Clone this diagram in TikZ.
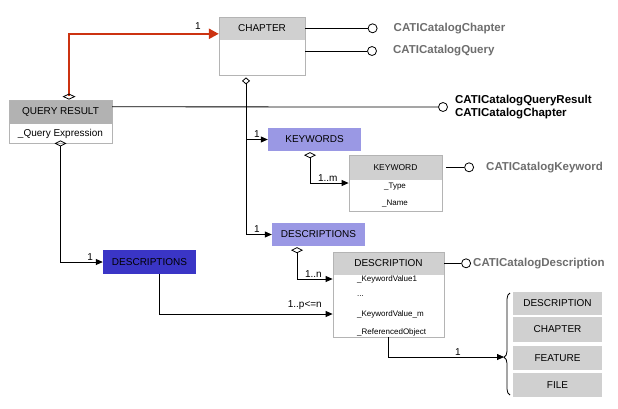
\documentclass[tikz,border=0pt]{standalone}
\usepackage{fontspec}
\setmainfont{Liberation Sans}
\usepackage{tikz}
\usetikzlibrary{arrows.meta, positioning, backgrounds, decorations.pathreplacing}

\definecolor{boxgray}{HTML}{B4B4B4}
\definecolor{headgray}{HTML}{D0D0D0}
\definecolor{qrgray}{HTML}{B2B2B2}
\definecolor{hatchblue}{HTML}{9A98E4}
\definecolor{solidblue}{HTML}{3A35C6}
\definecolor{linkred}{HTML}{CC3311}
\definecolor{ifacegray}{HTML}{6E6E6E}

\tikzset{
    umlbox/.style={draw=boxgray, line width=0.8pt, inner sep=0pt},
    capsfont/.style={font=\fontsize{10}{12}\selectfont},
    grayhead/.style={capsfont, fill=headgray, inner sep=0pt, anchor=north},
    bluebox/.style={capsfont, fill=hatchblue, inner sep=0pt, minimum width=93pt, minimum height=23pt},
    attr/.style={font=\fontsize{8}{10}\selectfont, inner sep=1pt},
    link/.style={line width=0.8pt, -{Triangle[length=7pt,width=6pt]}},
    agg/.style={line width=0.8pt, {Diamond[open,length=6pt,width=12pt]}-{Triangle[length=7pt,width=6pt]}},
    chapagg/.style={line width=0.8pt, {Diamond[open,length=7pt,width=8pt]}-{Triangle[length=7pt,width=6pt]}},
    redlink/.style={draw=linkred, line width=2.4pt,
        {Diamond[open,color=black,line width=0.8pt,length=6pt,width=13pt]}-{Triangle[length=10pt,width=10pt]}},
    iface/.style={line width=0.8pt},
    lolli/.style={circle, draw, line width=0.8pt, minimum size=9pt, inner sep=0pt},
    ifacelabel/.style={font=\fontsize{11.5}{13}\selectfont\bfseries, text=ifacegray, inner sep=0pt, align=left},
    numlabel/.style={font=\fontsize{10}{12}\selectfont, inner sep=1.5pt}
}

\begin{document}
\begin{tikzpicture}[x=1pt, y=-1pt]
    \useasboundingbox (0,0) rectangle (618,408);

    % classes
    \node[umlbox, minimum width=86pt, minimum height=58pt] (chapter) at (262,46) {};
    \node[umlbox, minimum width=103pt, minimum height=43pt] (qr) at (60.5,121.5) {};
    \node[umlbox, minimum width=93pt, minimum height=56pt] (kw) at (395.5,183) {};
    \node[umlbox, minimum width=111pt, minimum height=85pt] (desc) at (388.5,294.5) {};

    \node[bluebox] (kws) at (314.5,139.5) {KEYWORDS};
    \node[bluebox] (descA) at (318.5,234.5) {DESCRIPTIONS};
    \node[bluebox, fill=solidblue, minimum height=24pt] (descB) at (149.5,262) {DESCRIPTIONS};

    \begin{scope}[on background layer]
        \fill[white] (0,0) rectangle (618,408);
        \node[grayhead, minimum width=86pt, minimum height=23pt] (chapterhead) at (chapter.north) {CHAPTER};
        \node[grayhead, fill=qrgray, minimum width=103pt, minimum height=24pt] (qrhead) at (qr.north) {QUERY RESULT};
        \node[grayhead, font=\fontsize{8.5}{10}\selectfont, minimum width=93pt, minimum height=25pt] (kwhead) at (kw.north) {KEYWORD};
        \node[grayhead, minimum width=111pt, minimum height=23pt] (deschead) at (desc.north) {DESCRIPTION};
    \end{scope}

    % attributes
    \node[attr, font=\fontsize{10}{12}\selectfont] (qrexpr) at (60.5,134) {\_Query Expression};
    \node[attr] (kwtype) at (395,187) {\_Type};
    \node[attr] (kwname) at (395,204) {\_Name};
    \node[attr, anchor=west] (kvone) at (356,279) {\_KeywordValue1};
    \node[attr, anchor=west] (kvdots) at (356,296) {...};
    \node[attr, anchor=west] (kvm) at (356,314) {\_KeywordValue\_m};
    \node[attr, anchor=west] (refobj) at (356,332) {\_ReferencedObject};

    % referenced object kinds
    \node[grayhead, anchor=center, minimum width=89pt, minimum height=23pt] (tdesc) at (557.5,303.5) {DESCRIPTION};
    \node[grayhead, anchor=center, minimum width=89pt, minimum height=25pt] (tchap) at (557.5,329.5) {CHAPTER};
    \node[grayhead, anchor=center, minimum width=89pt, minimum height=24pt] (tfeat) at (557.5,358) {FEATURE};
    \node[grayhead, anchor=center, minimum width=89pt, minimum height=24pt] (tfile) at (557.5,385) {FILE};
    \draw[line width=0.8pt, decorate, decoration={brace, amplitude=6pt, aspect=0.37}] (510,395) -- (510,293);
    \coordinate (bracetip) at (504,357);

    % interfaces
    \node[lolli, right=62.5pt of chapterhead] (lchap) {};
    \node[lolli] (lquery) at (372,51) {};
    \node[lolli] (lqr) at (443,107) {};
    \node[lolli, right=22pt of kwhead] (lkw) {};
    \node[lolli, right=17pt of deschead] (ldesc) {};
    \node[ifacelabel, right=16pt of lchap] (tlchap) {CATICatalogChapter};
    \node[ifacelabel, right=16pt of lquery] (tlquery) {CATICatalogQuery};
    \node[ifacelabel, text=black, right=7pt of lqr] (tlqr) {CATICatalogQueryResult\\CATICatalogChapter};
    \node[ifacelabel, right=12pt of lkw] (tlkw) {CATICatalogKeyword};
    \node[ifacelabel, right=2pt of ldesc] (tldesc) {CATICatalogDescription};

    \draw[iface] (chapterhead.east) -- (lchap);
    \draw[iface] (chapter.east |- lquery) -- (lquery);
    \draw[iface] ([yshift=5pt]qrhead.east) -- (lqr);
    \draw[iface] ([xshift=4pt]kwhead.east) -- (lkw);
    \draw[iface] (deschead.east) -- (ldesc);

    % associations
    \draw[redlink] ([xshift=8.5pt]qr.north) |- ([yshift=-5.5pt]chapterhead.west) node[numlabel, text=black, pos=0.93, above=2pt] {1};
    \coordinate (trunk) at ([xshift=-16pt,yshift=-2pt]chapter.south);
    \draw[chapagg] (trunk) |- (descA.west) node[numlabel, pos=0.71, above] {1};
    \draw[link] (trunk |- kws.west) -- (kws.west) node[numlabel, midway, above] {1};
    \draw[agg] ([xshift=-4.5pt,yshift=-1pt]kws.south) |- (kw.west) node[numlabel, pos=0.73, above] {1..m};
    \draw[agg] ([xshift=-21.5pt,yshift=-1pt]descA.south) |- (desc.west |- kvone) node[numlabel, pos=0.73, above] {1..n};
    \draw[agg] ([yshift=3pt]qr.south) |- (descB.west) node[numlabel, pos=0.85, above] {1};
    \draw[link] ([xshift=9.5pt]descB.south) |- (desc.west |- kvm) node[numlabel, pos=0.92, above=3pt] {1..p<=n};
    \draw[link] (desc.south) |- (bracetip) node[numlabel, pos=0.8, above] {1};
\end{tikzpicture}
\end{document}
